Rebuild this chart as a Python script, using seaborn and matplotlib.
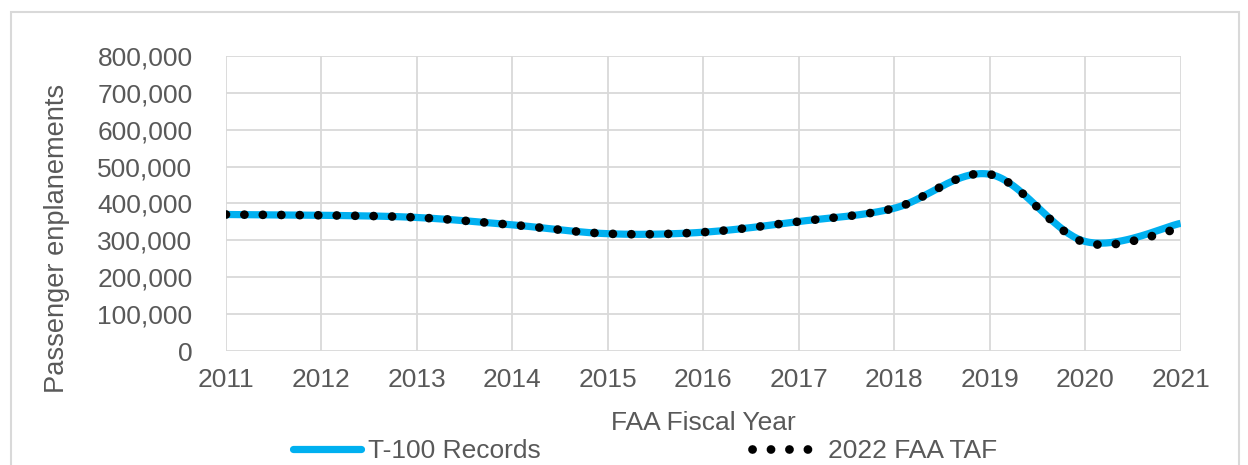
import numpy as np
import pandas as pd
import matplotlib
matplotlib.use("Agg")
import matplotlib.pyplot as plt
import seaborn as sns
from matplotlib.ticker import FuncFormatter
from matplotlib.patches import Rectangle
from matplotlib.lines import Line2D

years = [2011, 2012, 2013, 2014, 2015, 2016, 2017, 2018, 2019, 2020, 2021]
t100 = [370000, 368000, 362000, 342000, 318000, 322000, 351000, 387000, 479000, 297000, 346000]
taf = [370000, 368000, 362000, 342000, 318000, 322000, 351000, 387000, 479000, 294000, 333000]
series_names = ["T-100 Records", "2022 FAA TAF"]
y_ticks = [0, 100000, 200000, 300000, 400000, 500000, 600000, 700000, 800000]


def smooth(x, y, n=40):
    # Catmull-Rom style smoothing, like a spreadsheet's "smoothed line"
    x = np.asarray(x, float)
    y = np.asarray(y, float)
    px = np.concatenate([[x[0]], x, [x[-1]]])
    py = np.concatenate([[y[0]], y, [y[-1]]])
    xs, ys = [], []
    t = np.linspace(0, 1, n, endpoint=False)
    for i in range(1, len(px) - 2):
        p0, p1, p2, p3 = py[i - 1], py[i], py[i + 1], py[i + 2]
        q0, q1, q2, q3 = px[i - 1], px[i], px[i + 1], px[i + 2]
        m1y, m2y = (p2 - p0) / 2, (p3 - p1) / 2
        m1x, m2x = (q2 - q0) / 2, (q3 - q1) / 2
        h00 = 2 * t**3 - 3 * t**2 + 1
        h10 = t**3 - 2 * t**2 + t
        h01 = -2 * t**3 + 3 * t**2
        h11 = t**3 - t**2
        xs.append(h00 * q1 + h10 * m1x + h01 * q2 + h11 * m2x)
        ys.append(h00 * p1 + h10 * m1y + h01 * p2 + h11 * m2y)
    xs.append([x[-1]])
    ys.append([y[-1]])
    return np.concatenate(xs), np.concatenate(ys)


sns.set_theme(style="white")
plt.rcParams["font.family"] = ["Liberation Sans", "DejaVu Sans"]
text_color = "#595959"
fs = 19

fig = plt.figure(figsize=(12.48, 4.65), dpi=100)
ax = fig.add_axes([0.181, 0.245, 0.765, 0.635])

sx1, sy1 = smooth(years, t100)
sx2, sy2 = smooth(years, taf)
df1 = pd.DataFrame({"year": sx1, "value": sy1})
df2 = pd.DataFrame({"year": sx2, "value": sy2})

blue_lw = 5.2
dot_lw = 6.3
dot_pattern = (0.01, 2.1)

sns.lineplot(data=df1, x="year", y="value", ax=ax, color="#00B0F0", linewidth=blue_lw,
             sort=False, solid_capstyle="butt", zorder=3)
sns.lineplot(data=df2, x="year", y="value", ax=ax, color="black", linewidth=dot_lw,
             sort=False, zorder=4)
dot_line = ax.lines[-1]
dot_line.set_dashes(dot_pattern)
dot_line.set_dash_capstyle("round")

ax.set_xlim(2011, 2021)
ax.set_ylim(0, 800000)
ax.set_xticks(years)
ax.set_yticks(y_ticks)
ax.yaxis.set_major_formatter(FuncFormatter(lambda v, p: f"{int(v):,}"))
ax.grid(True, color="#D9D9D9", linewidth=1.3)
for s in ax.spines.values():
    s.set_visible(False)
ax.tick_params(axis="both", labelsize=fs, colors=text_color, length=0)
ax.tick_params(axis="y", pad=24)
ax.tick_params(axis="x", pad=12)
ax.set_xlabel("FAA Fiscal Year", fontsize=fs, color=text_color, labelpad=14)
ax.set_ylabel("Passenger enplanements", fontsize=19.6, color=text_color)
ax.yaxis.set_label_coords(-0.163, 0.38)

handles = [
    Line2D([0], [0], color="#00B0F0", linewidth=blue_lw, solid_capstyle="round"),
    Line2D([0], [0], color="black", linewidth=dot_lw, dashes=dot_pattern, dash_capstyle="round"),
]
fig.legend(handles, series_names, loc="center", bbox_to_anchor=(0.5168, 0.030), ncol=2,
           frameon=False, fontsize=fs, handlelength=2.55, handletextpad=0.3,
           columnspacing=8.0, labelcolor=text_color)

fig.patches.append(Rectangle((11 / 1248, -0.1), 1228 / 1248, 1 - 12 / 465 + 0.1,
                             transform=fig.transFigure, fill=False,
                             edgecolor="#D9D9D9", linewidth=1.5, zorder=0))

fig.savefig("out.png", dpi=100)
